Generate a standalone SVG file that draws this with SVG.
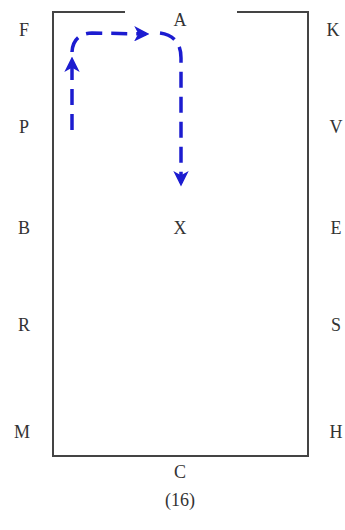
<svg xmlns="http://www.w3.org/2000/svg" width="345" height="530" viewBox="0 0 345 530">
<defs>
<style>
.lbl{font-family:"Liberation Serif","Times New Roman",serif;font-size:18px;fill:#333;text-anchor:middle}
.arena{fill:none;stroke:#444;stroke-width:2}
.route{fill:none;stroke:#1c1cd0;stroke-width:3.5;stroke-dasharray:16 9}
</style>
<marker id="ah" markerWidth="4.4" markerHeight="4.4" refX="3.4" refY="2.2" orient="auto" markerUnits="strokeWidth">
<path d="M0,0 L4.4,2.2 L0,4.4 L1.2,2.2 Z" fill="#1c1cd0"/>
</marker>
</defs>
<rect width="345" height="530" fill="#fff"/>
<g id="arena">
<path class="arena" d="M125,12 L53,12 L53,456 L308,456 L308,12 L237,12"/>
</g>
<g id="labels">
<text class="lbl" x="24" y="36">F</text>
<text class="lbl" x="180" y="26">A</text>
<text class="lbl" x="333" y="36">K</text>
<text class="lbl" x="24" y="133">P</text>
<text class="lbl" x="336" y="133">V</text>
<text class="lbl" x="24" y="234">B</text>
<text class="lbl" x="180" y="234">X</text>
<text class="lbl" x="336" y="234">E</text>
<text class="lbl" x="24" y="331">R</text>
<text class="lbl" x="336" y="331">S</text>
<text class="lbl" x="22" y="438">M</text>
<text class="lbl" x="336" y="438">H</text>
<text class="lbl" x="180" y="478">C</text>
<text class="lbl" x="180" y="506">(16)</text>
</g>
<g id="connectors">
<path class="route" d="M72,130 L72,60" stroke-dasharray="38 14 20" marker-end="url(#ah)"/>
<path class="route" d="M72,52 Q73,34 92,33 L146,34" stroke-dasharray="24 10 6 10 30" marker-end="url(#ah)"/>
<path class="route" d="M160,33 Q181,36 181,58 L181,183" stroke-dasharray="22 12 16 10 32 12 40" marker-end="url(#ah)"/>
</g>
</svg>
